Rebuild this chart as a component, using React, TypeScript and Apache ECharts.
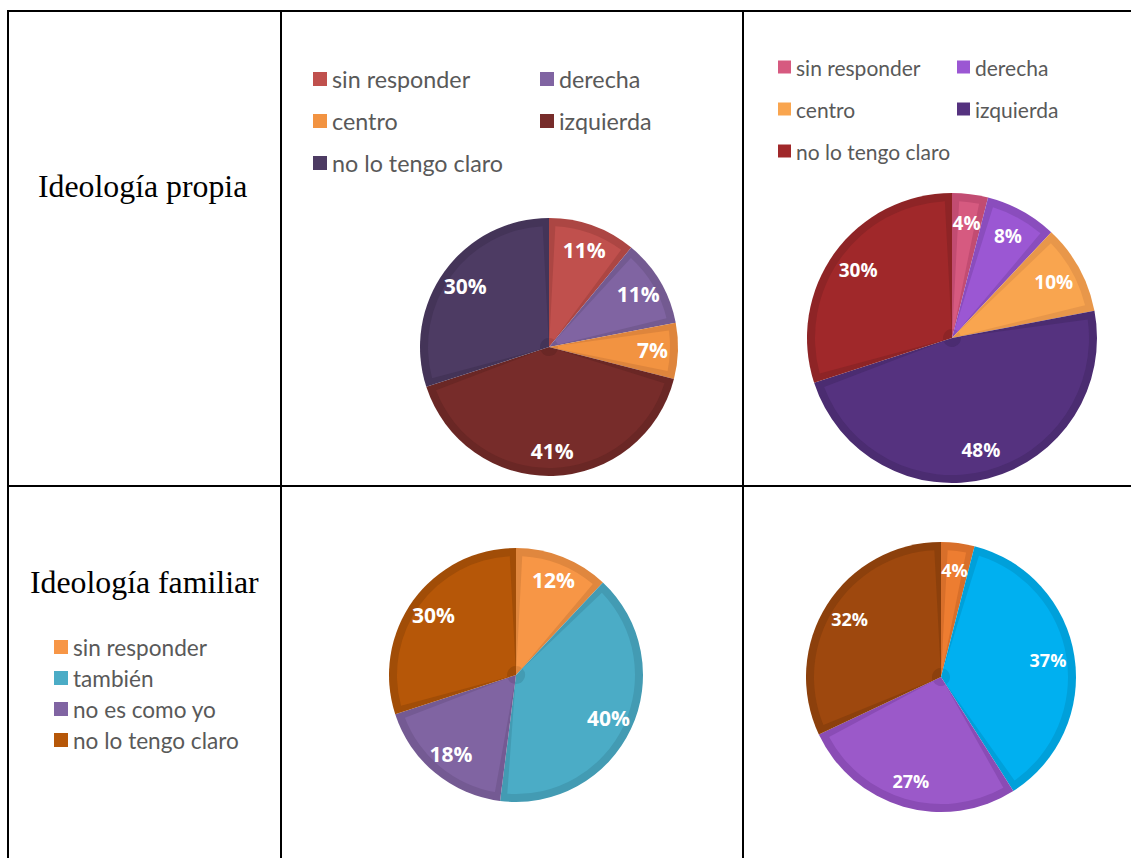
import React, { useEffect, useRef } from "react";
import * as echarts from "echarts";

// ---- data ----
const rowLabels = ["Ideología propia", "Ideología familiar"];

const propiaCategories = ["sin responder", "derecha", "centro", "izquierda", "no lo tengo claro"];
const propiaA = [11, 11, 7, 41, 30];
const propiaB = [4, 8, 10, 48, 30];

const familiarCategories = ["sin responder", "también", "no es como yo", "no lo tengo claro"];
const familiarA = [12, 40, 18, 30];
const familiarB = [4, 37, 27, 32];

// ---- colours ----
const propiaALight = ["#C0504D", "#8064A2", "#F29341", "#772C2A", "#4D3B63"];
const propiaADark = ["#AC4643", "#735A91", "#DE853C", "#6A2725", "#443458"];
const propiaBLight = ["#D65A80", "#9B57D3", "#F9A54F", "#55327F", "#A0282A"];
const propiaBDark = ["#C24C72", "#8A4DBD", "#E8974A", "#4B2C71", "#8E2426"];
const familiarALight = ["#F79646", "#4BACC6", "#8064A2", "#B65708"];
const familiarADark = ["#E0873E", "#439BB3", "#745A93", "#A14D07"];
const familiarBLight = ["#ED7D31", "#00B0F0", "#9B59C9", "#9E480E"];
const familiarBDark = ["#D86F2A", "#00A0DA", "#8A4CB5", "#8C400C"];

function makePie(
  names: string[],
  values: number[],
  light: string[],
  dark: string[],
  center: [number, number],
  r: number,
  fontSize: number
) {
  const base = {
    type: "pie",
    center,
    startAngle: 90,
    clockwise: true,
    silent: true,
    avoidLabelOverlap: false,
    labelLine: { show: false },
    emphasis: { disabled: true },
  };
  const dataWith = (cols: string[] | null) =>
    names.map((n, i) => ({
      name: n,
      value: values[i],
      itemStyle: cols ? { color: cols[i] } : { color: "rgba(0,0,0,0)" },
    }));
  return [
    {
      ...base,
      z: 2,
      radius: [0, r],
      label: { show: false },
      itemStyle: { borderWidth: 0 },
      data: dataWith(dark),
    },
    {
      ...base,
      z: 2,
      radius: [9, r - 8],
      padAngle: 6,
      label: { show: false },
      itemStyle: { borderWidth: 0 },
      data: dataWith(light),
    },
    {
      ...base,
      z: 4,
      radius: [r * 0.56, r],
      itemStyle: { borderWidth: 0, color: "rgba(0,0,0,0)" },
      label: {
        show: true,
        position: "inside",
        formatter: "{c}%",
        color: "#ffffff",
        fontFamily: "Open Sans",
        fontWeight: "bold",
        fontSize,
      },
      data: dataWith(null),
    },
  ];
}

function makeLegend(
  names: string[],
  cols: string[],
  left: number,
  top: number,
  fontSize: number,
  lineHeight: number,
  gap: number,
  icon: number
) {
  return {
    orient: "vertical",
    left,
    top,
    padding: 0,
    itemGap: gap,
    itemWidth: icon,
    itemHeight: icon,
    icon: "rect",
    selectedMode: false,
    itemStyle: { borderWidth: 0 },
    textStyle: {
      fontFamily: "Lato",
      fontSize,
      lineHeight,
      color: "#595959",
    },
    data: names.map((n, i) => ({ name: n, itemStyle: { color: cols[i] } })),
  };
}

const pick = (arr: string[], idx: number[]) => idx.map((i) => arr[i]);

export default function App() {
  const ref = useRef<HTMLDivElement>(null);
  useEffect(() => {
    if (!ref.current) return;
    const chart = echarts.init(ref.current, null, { renderer: "svg" });
    const lineStyle = { stroke: "#000000", lineWidth: 2 };
    const option = {
      animation: false,
      backgroundColor: "#ffffff",
      graphic: [
        { type: "line", shape: { x1: 7, y1: 11, x2: 1131, y2: 11 }, style: lineStyle },
        { type: "line", shape: { x1: 7, y1: 486, x2: 1131, y2: 486 }, style: lineStyle },
        { type: "line", shape: { x1: 8, y1: 10, x2: 8, y2: 858 }, style: lineStyle },
        { type: "line", shape: { x1: 281, y1: 10, x2: 281, y2: 858 }, style: lineStyle },
        { type: "line", shape: { x1: 743, y1: 10, x2: 743, y2: 858 }, style: lineStyle },
        {
          type: "text",
          x: 38,
          y: 186.5,
          style: {
            text: rowLabels[0],
            font: "31.8px 'Liberation Serif', 'Times New Roman', serif",
            fill: "#000000",
            align: "left",
            verticalAlign: "middle",
          },
        },
        {
          type: "text",
          x: 30,
          y: 582.5,
          style: {
            text: rowLabels[1],
            font: "31.8px 'Liberation Serif', 'Times New Roman', serif",
            fill: "#000000",
            align: "left",
            verticalAlign: "middle",
          },
        },
      ],
      legend: [
        makeLegend(pick(propiaCategories, [0, 2, 4]), pick(propiaALight, [0, 2, 4]), 313, 66, 23.3, 26, 16, 14),
        makeLegend(pick(propiaCategories, [1, 3]), pick(propiaALight, [1, 3]), 540, 66, 23.3, 26, 16, 14),
        makeLegend(pick(propiaCategories, [0, 2, 4]), pick(propiaBLight, [0, 2, 4]), 778, 55, 21, 24, 18, 13),
        makeLegend(pick(propiaCategories, [1, 3]), pick(propiaBLight, [1, 3]), 957, 55, 21, 24, 18, 13),
        makeLegend(familiarCategories, familiarALight, 54, 635, 22.6, 24, 7, 14),
      ],
      series: [
        ...makePie(propiaCategories, propiaA, propiaALight, propiaADark, [549, 347], 129, 21),
        ...makePie(propiaCategories, propiaB, propiaBLight, propiaBDark, [952, 338], 145, 19),
        ...makePie(familiarCategories, familiarA, familiarALight, familiarADark, [516, 675], 127, 21),
        ...makePie(familiarCategories, familiarB, familiarBLight, familiarBDark, [941, 677], 135, 18),
      ],
    };
    chart.setOption(option as any);
    return () => chart.dispose();
  }, []);
  return (
    <div
      ref={ref}
      style={{ position: "absolute", left: 0, top: 0, width: 1131, height: 858 }}
    />
  );
}
